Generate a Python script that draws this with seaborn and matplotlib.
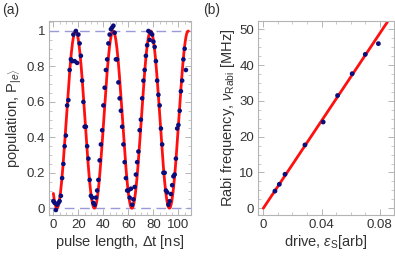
import numpy as np
import pandas as pd
import matplotlib
matplotlib.use("Agg")
import matplotlib.pyplot as plt
from matplotlib.ticker import MultipleLocator
import seaborn as sns

# (a) measured population vs pulse length, one point per ns
pulse_ns = list(range(0, 107))
population = [
    0.04, 0.03, -0.01, 0.02, 0.03, 0.04, 0.07, 0.17, 0.25, 0.35,
    0.41, 0.58, 0.61, 0.78, 0.84, 0.83, 0.98, 0.83, 1.00, 0.82,
    0.98, 0.93, 0.86, 0.72, 0.60, 0.46, 0.46, 0.35, 0.28, 0.16,
    0.07, 0.06, 0.03, 0.02, 0.06, 0.10, 0.16, 0.27, 0.36, 0.44,
    0.58, 0.68, 0.78, 0.84, 0.93, 0.98, 1.01, 1.02, 1.03, 0.99,
    0.84, 0.84, 0.71, 0.62, 0.55, 0.46, 0.36, 0.26, 0.17, 0.10,
    0.10, 0.06, 0.11, 0.02, 0.05, 0.12, 0.19, 0.26, 0.32, 0.44,
    0.50, 0.62, 0.72, 0.78, 0.86, 0.92, 1.00, 0.95, 0.99, 0.98,
    0.94, 0.91, 0.83, 0.72, 0.64, 0.58, 0.45, 0.36, 0.20, 0.20,
    0.10, 0.09, 0.02, 0.04, 0.08, 0.13, 0.18, 0.19, 0.28, 0.45,
    0.47, 0.55, 0.66, 0.72, 0.84, 0.90, 0.78,
]
# fitted Rabi oscillation
fit_period_ns = 30.0
fit_t_min_ns = 2.8

# (b) Rabi frequency vs drive amplitude
drive = [0.0080, 0.0110, 0.0149, 0.0286, 0.0411, 0.0510, 0.0610, 0.0700, 0.0790]
rabi_mhz = [4.8, 6.7, 9.5, 17.7, 24.1, 31.5, 37.6, 43.0, 46.0]
fit_slope = 611.0

sns.set_style("ticks")
plt.rcParams['font.family'] = ['Liberation Sans', 'DejaVu Sans']
plt.rcParams['mathtext.fontset'] = 'custom'
plt.rcParams['mathtext.rm'] = 'Liberation Sans'
plt.rcParams['mathtext.it'] = 'Liberation Sans:italic'

frame_col = '#b4b4b4'
text_col = '#333333'
dot_col = '#0c0c7a'
line_col = '#ff1010'
lab_size = 10.5

fig = plt.figure(figsize=(3.95, 2.59), dpi=100)
ax1 = fig.add_axes([0.125, 0.170, 0.358, 0.750])
ax2 = fig.add_axes([0.654, 0.170, 0.343, 0.750])

t_fit = np.linspace(0, 108, 600)
p_fit = np.sin(np.pi * (t_fit - fit_t_min_ns) / fit_period_ns) ** 2
df_a = pd.DataFrame({'t': pulse_ns, 'p': population})

for yv in (0, 1):
    ax1.axhline(yv, color='#9a9ad8', lw=1.0, ls=(0, (7, 4)), zorder=1)
sns.lineplot(x=t_fit, y=p_fit, ax=ax1, color=line_col, lw=2.0, zorder=2)
sns.scatterplot(data=df_a, x='t', y='p', ax=ax1, color=dot_col, s=11,
                edgecolor='none', zorder=3)
ax1.set_xlim(-3.2, 109.9)
ax1.set_ylim(-0.038, 1.058)
ax1.set_xticks([0, 20, 40, 60, 80, 100])
ax1.set_yticks([0, 0.2, 0.4, 0.6, 0.8, 1.0])
ax1.set_yticklabels(['0', '0.2', '0.4', '0.6', '0.8', '1'])
ax1.xaxis.set_minor_locator(MultipleLocator(5))
ax1.yaxis.set_minor_locator(MultipleLocator(0.05))
ax1.set_xlabel('pulse length, $\\Delta$t [ns]', fontsize=lab_size, color=text_col, labelpad=1)
ax1.set_ylabel('population, P$_{|e\\rangle}$', fontsize=lab_size, color=text_col, labelpad=2)

x_fit = np.linspace(0, 0.0896, 50)
df_b = pd.DataFrame({'drive': drive, 'rabi': rabi_mhz})
sns.lineplot(x=x_fit, y=fit_slope * x_fit, ax=ax2, color=line_col, lw=2.0, zorder=2)
sns.scatterplot(data=df_b, x='drive', y='rabi', ax=ax2, color=dot_col, s=12,
                edgecolor='none', zorder=3)
ax2.set_xlim(-0.0034, 0.0896)
ax2.set_ylim(-1.87, 52.4)
ax2.set_xticks([0, 0.04, 0.08])
ax2.set_xticklabels(['0', '0.04', '0.08'])
ax2.set_yticks([0, 10, 20, 30, 40, 50])
ax2.xaxis.set_minor_locator(MultipleLocator(0.01))
ax2.yaxis.set_minor_locator(MultipleLocator(2.5))
ax2.set_xlabel('drive, $\\epsilon_\\mathrm{S}$[arb]', fontsize=lab_size, color=text_col, labelpad=1)
ax2.set_ylabel('Rabi frequency, $\\nu_\\mathrm{Rabi}$ [MHz]', fontsize=lab_size, color=text_col, labelpad=2)

for ax in (ax1, ax2):
    for sp in ax.spines.values():
        sp.set_visible(True)
        sp.set_color(frame_col)
        sp.set_linewidth(0.8)
    ax.tick_params(which='both', direction='in', top=True, right=True,
                   color=frame_col, labelsize=9.5, labelcolor=text_col, pad=3)
    ax.tick_params(which='major', length=4, width=0.7)
    ax.tick_params(which='minor', length=2, width=0.5)

fig.text(0.005, 0.962, '(a)', fontsize=10, color=text_col, va='center')
fig.text(0.515, 0.962, '(b)', fontsize=10, color=text_col, va='center')

fig.savefig('out.png', dpi=100)
